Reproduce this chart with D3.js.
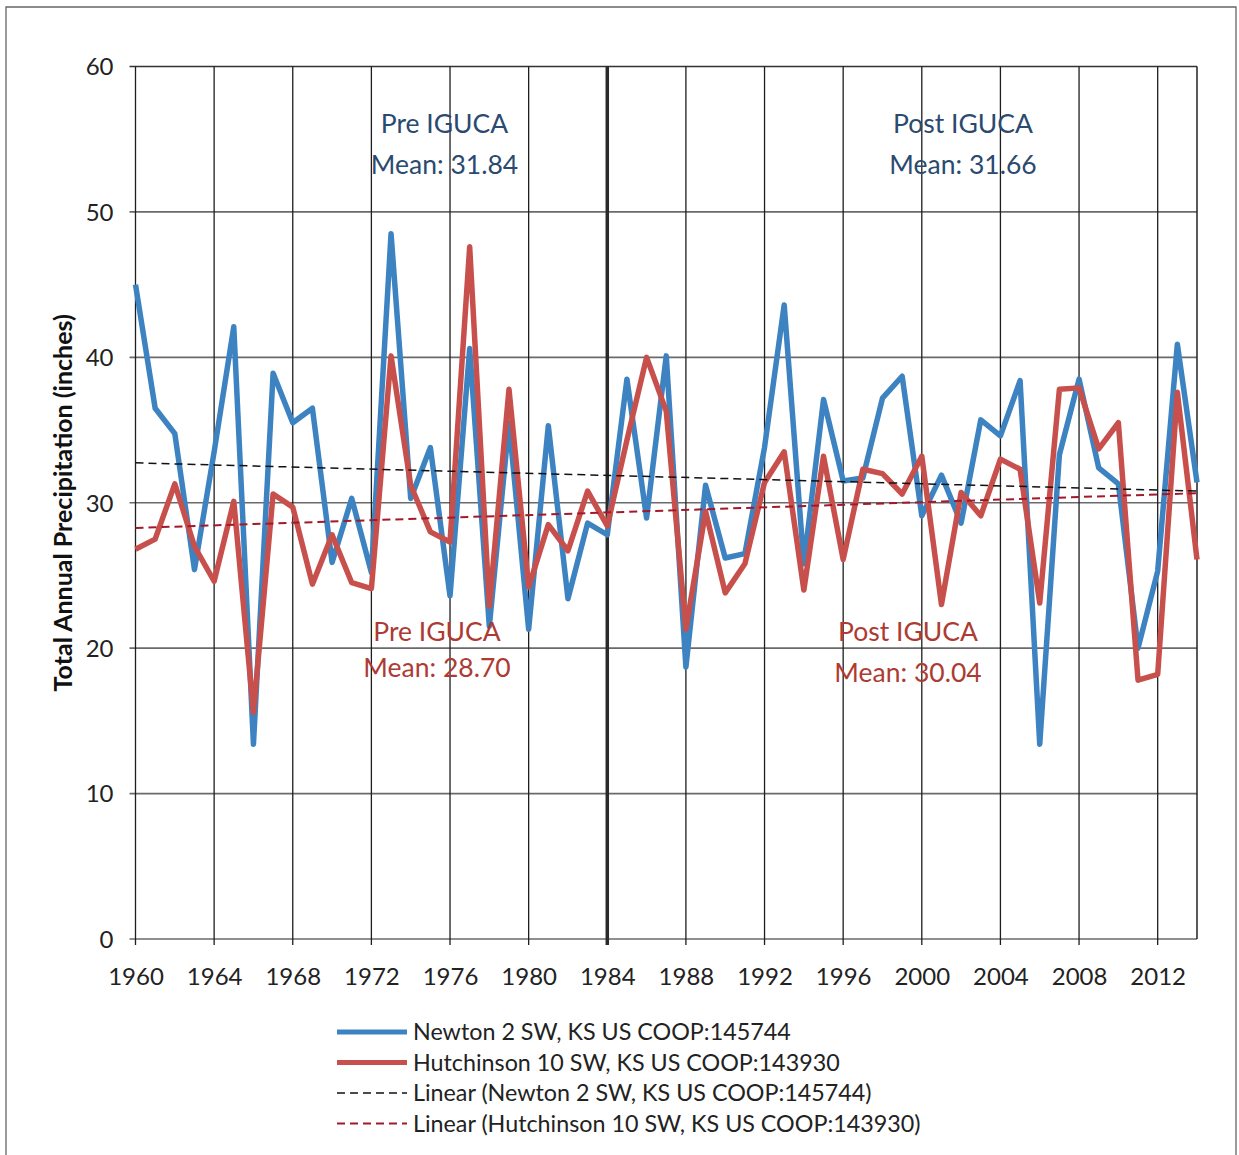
<!DOCTYPE html>
<html><head><meta charset="utf-8">
<script src="https://cdn.jsdelivr.net/npm/d3@7/dist/d3.min.js"></script>
<style>
body{margin:0;background:#fff}
svg{display:block}
text{font-family:Lato,'Open Sans',sans-serif}
</style>
</head><body>
<svg id="chart" width="1239" height="1155"></svg>
<script>
// ---------------- data ----------------
const years = [1960,1961,1962,1963,1964,1965,1966,1967,1968,1969,
               1970,1971,1972,1973,1974,1975,1976,1977,1978,1979,
               1980,1981,1982,1983,1984,1985,1986,1987,1988,1989,
               1990,1991,1992,1993,1994,1995,1996,1997,1998,1999,
               2000,2001,2002,2003,2004,2005,2006,2007,2008,2009,
               2010,2011,2012,2013,2014];
const newton = [45.0,36.5,34.75,25.4,33.5,42.1,13.4,38.9,35.5,36.5,
                25.9,30.3,25.2,48.5,30.3,33.8,23.6,40.6,21.5,35.5,
                21.3,35.3,23.4,28.6,27.8,38.5,28.95,40.1,18.7,31.2,
                26.2,26.5,33.8,43.6,25.8,37.1,31.5,31.7,37.2,38.7,
                29.1,31.9,28.6,35.7,34.6,38.4,13.4,33.3,38.5,32.4,
                31.3,20.0,25.3,40.9,31.4];
const hutchinson = [26.8,27.5,31.3,27.0,24.6,30.1,15.6,30.6,29.7,24.4,
                    27.8,24.5,24.1,40.1,31.2,28.0,27.3,47.6,22.9,37.8,
                    24.2,28.5,26.7,30.8,28.4,34.3,40.0,36.3,21.3,29.4,
                    23.8,25.8,31.4,33.5,24.0,33.2,26.1,32.3,32.0,30.6,
                    33.2,23.0,30.7,29.1,33.0,32.3,23.1,37.8,37.9,33.7,
                    35.5,17.8,18.2,37.6,26.1];
const xTicks = [1960,1964,1968,1972,1976,1980,1984,1988,1992,1996,2000,2004,2008,2012];
const yTicks = [0,10,20,30,40,50,60];
const igucaYear = 1984;
const legendLabels = ["Newton 2 SW, KS US COOP:145744","Hutchinson 10 SW, KS US COOP:143930",
                      "Linear (Newton 2 SW, KS US COOP:145744)","Linear (Hutchinson 10 SW, KS US COOP:143930)"];
const periodLabels = ["Pre IGUCA","Post IGUCA"];
const newtonMeans = ["Mean: 31.84","Mean: 31.66"];
const hutchMeans = ["Mean: 28.70","Mean: 30.04"];
const yTitle = "Total Annual Precipitation (inches)";

// ---------------- layout ----------------
const BLUE = "#3d83c2", RED = "#c8504c";
const svg = d3.select("#chart");
const L = 135.5, R = 1197, T = 66.5, B = 939;
const x = d3.scaleLinear().domain([1960, 2014]).range([L, R]);
const y = d3.scaleLinear().domain([0, 60]).range([B, T]);

// outer frame
svg.append("path").attr("d","M6,1160V7H1236V1160").attr("fill","none").attr("stroke","#666").attr("stroke-width",1.3);

// horizontal gridlines
svg.append("g").selectAll("line").data(yTicks).join("line")
  .attr("x1", L - 6).attr("x2", R).attr("y1", d => y(d)).attr("y2", d => y(d))
  .attr("stroke", d => d === 60 ? "#333" : "#6a6a6a").attr("stroke-width", 1.6);

// vertical gridlines
svg.append("g").selectAll("line").data(xTicks).join("line")
  .attr("x1", d => x(d)).attr("x2", d => x(d)).attr("y1", T).attr("y2", B + 6)
  .attr("stroke", "#1e1e1e").attr("stroke-width", 1.3);
svg.append("line").attr("x1", R).attr("x2", R).attr("y1", T).attr("y2", B)
  .attr("stroke", "#222").attr("stroke-width", 1.5);
// IGUCA divider
svg.append("line").attr("x1", x(igucaYear)).attr("x2", x(igucaYear)).attr("y1", T).attr("y2", B + 6)
  .attr("stroke", "#2a2a2a").attr("stroke-width", 3.5);

// axes labels
const xAxis = d3.axisBottom(x).tickValues(xTicks).tickFormat(d3.format("d")).tickSize(0).tickPadding(0);
const gx = svg.append("g").attr("transform", `translate(0,${B})`).call(xAxis);
gx.select(".domain").remove();
gx.selectAll("text").attr("y", 46).attr("dy", 0).attr("font-size", 24).attr("fill", "#222")
  .style("font-family","Lato");

const yAxis = d3.axisLeft(y).tickValues(yTicks).tickSize(0).tickPadding(0);
const gy = svg.append("g").attr("transform", `translate(${L},0)`).call(yAxis);
gy.select(".domain").remove();
gy.selectAll("text").attr("x", -22).attr("dy", "0.35em").attr("font-size", 24).attr("fill", "#222")
  .style("font-family","Lato");

// y title
svg.append("text").attr("transform", `translate(72,${(T + B) / 2}) rotate(-90)`)
  .attr("text-anchor", "middle").attr("font-size", 25).attr("font-weight", "bold").attr("fill", "#111")
  .text(yTitle);

// series
const line = d3.line().x((d, i) => x(years[i])).y(d => y(d));
svg.append("path").datum(newton).attr("d", line).attr("fill", "none")
  .attr("stroke", BLUE).attr("stroke-width", 5.5).attr("stroke-linejoin", "round");
svg.append("path").datum(hutchinson).attr("d", line).attr("fill", "none")
  .attr("stroke", RED).attr("stroke-width", 5.5).attr("stroke-linejoin", "round");

// linear trends (least squares)
function linreg(xs, ys) {
  const mx = d3.mean(xs), my = d3.mean(ys);
  let num = 0, den = 0;
  xs.forEach((v, i) => { num += (v - mx) * (ys[i] - my); den += (v - mx) * (v - mx); });
  const m = num / den; return [m, my - m * mx];
}
const ends = [years[0], years[years.length - 1]];
[[newton, "#111", 1.5], [hutchinson, "#a3182a", 2]].forEach(([vals, col, w]) => {
  const [m, b] = linreg(years, vals);
  svg.append("line").attr("x1", x(ends[0])).attr("x2", x(ends[1]))
    .attr("y1", y(m * ends[0] + b)).attr("y2", y(m * ends[1] + b))
    .attr("stroke", col).attr("stroke-width", w).attr("stroke-dasharray", "8,5");
});

// annotations
const ann = svg.append("g").attr("font-size", 26.5).attr("text-anchor", "middle");
ann.append("text").attr("x", 444.5).attr("y", 133).attr("fill", "#2b4a6f").text(periodLabels[0]);
ann.append("text").attr("x", 444.5).attr("y", 174).attr("fill", "#2b4a6f").text(newtonMeans[0]);
ann.append("text").attr("x", 963).attr("y", 133).attr("fill", "#2b4a6f").text(periodLabels[1]);
ann.append("text").attr("x", 963).attr("y", 174).attr("fill", "#2b4a6f").text(newtonMeans[1]);
ann.append("text").attr("x", 437).attr("y", 641).attr("fill", "#ad3b33").text(periodLabels[0]);
ann.append("text").attr("x", 437).attr("y", 677).attr("fill", "#ad3b33").text(hutchMeans[0]);
ann.append("text").attr("x", 908).attr("y", 641).attr("fill", "#ad3b33").text(periodLabels[1]);
ann.append("text").attr("x", 908).attr("y", 682).attr("fill", "#ad3b33").text(hutchMeans[1]);

// legend
const legStyles = [
  {c: BLUE, w: 5, dash: null},
  {c: RED, w: 5, dash: null},
  {c: "#111", w: 1.5, dash: "8,5"},
  {c: "#a3182a", w: 2, dash: "8,5"}
];
const lg = svg.append("g");
legendLabels.forEach((t, i) => {
  const yy = 1032 + i * 30.5;
  lg.append("line").attr("x1", 337).attr("x2", 407).attr("y1", yy).attr("y2", yy)
    .attr("stroke", legStyles[i].c).attr("stroke-width", legStyles[i].w)
    .attr("stroke-dasharray", legStyles[i].dash);
  lg.append("text").attr("x", 413).attr("y", yy).attr("dy", "0.36em")
    .attr("font-size", 23.3).attr("fill", "#222").text(t);
});
</script>
</body></html>
